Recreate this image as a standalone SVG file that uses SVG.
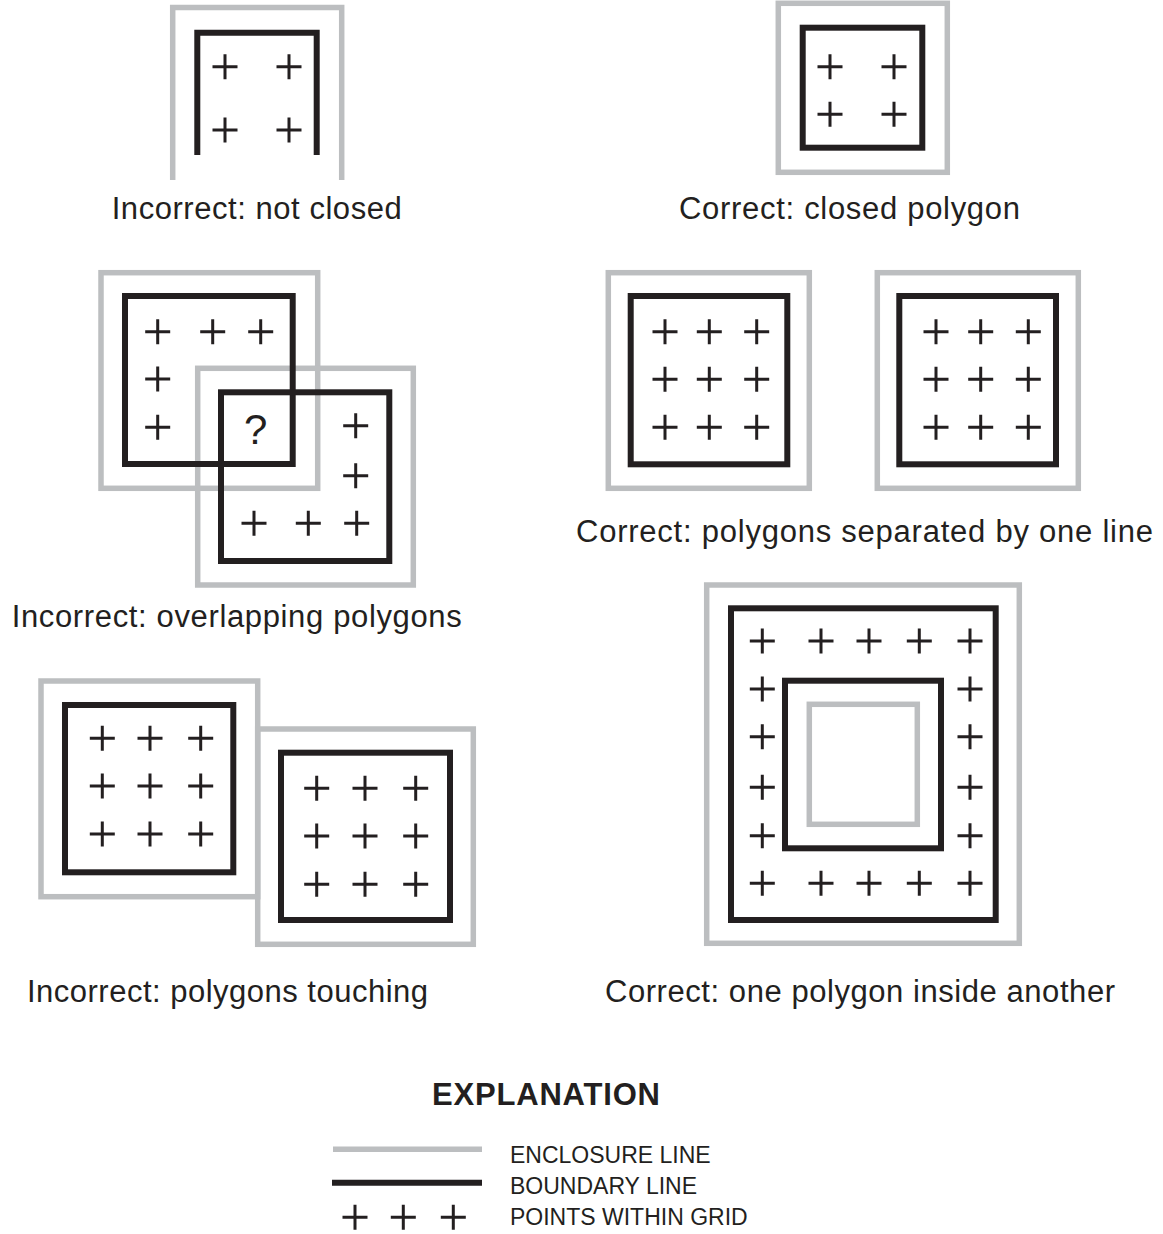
<svg xmlns="http://www.w3.org/2000/svg" xmlns:xlink="http://www.w3.org/1999/xlink" width="1163" height="1234" viewBox="0 0 1163 1234">
<style>
.enc{fill:none;stroke:#bcbec0;stroke-width:5.5}
.bnd{fill:none;stroke:#231f20;stroke-width:6}
.pt{fill:none;stroke:#231f20;stroke-width:3}
.cap{font-family:"Liberation Sans",Arial,sans-serif;font-size:31px;fill:#231f20}
.leg{font-family:"Liberation Sans",Arial,sans-serif;font-size:23px;fill:#231f20}
.ttl{font-family:"Liberation Sans",Arial,sans-serif;font-size:31px;font-weight:bold;fill:#231f20}
</style>
<defs>
<path id="plus" class="pt" d="M-12.5 0H12.5M0 -12.5V12.5"/>
</defs>
<rect width="1163" height="1234" fill="#fff"/>

<g id="not-closed">
<path class="enc" d="M172.7 180V7.5H341.7V180"/>
<path class="bnd" d="M197.3 155V32.7H316.7V155"/>
<use href="#plus" x="225" y="66.7"/><use href="#plus" x="289" y="66.7"/>
<use href="#plus" x="225" y="130"/><use href="#plus" x="289" y="130"/>
<text class="cap" x="256.7" y="218.5" text-anchor="middle" textLength="290" lengthAdjust="spacing">Incorrect: not closed</text>
</g>

<g id="closed">
<rect class="enc" x="778.3" y="3.3" width="169" height="169"/>
<rect class="bnd" x="802.7" y="27.7" width="119.6" height="120"/>
<use href="#plus" x="830" y="66.7"/><use href="#plus" x="894" y="66.7"/>
<use href="#plus" x="830" y="114.3"/><use href="#plus" x="894" y="114.3"/>
<text class="cap" x="849.5" y="218.5" text-anchor="middle" textLength="341" lengthAdjust="spacing">Correct: closed polygon</text>
</g>

<g id="overlapping">
<rect class="enc" x="101" y="272.7" width="216.7" height="215.6"/>
<rect class="enc" x="197.7" y="368.3" width="215.6" height="216.7"/>
<rect class="bnd" x="125" y="296" width="167.7" height="168"/>
<rect class="bnd" x="221" y="392.3" width="168.3" height="168.7"/>
<use href="#plus" x="157.7" y="331.7"/><use href="#plus" x="212.7" y="331.7"/><use href="#plus" x="260.7" y="331.7"/>
<use href="#plus" x="157.7" y="379"/><use href="#plus" x="157.7" y="427.3"/>
<use href="#plus" x="355.7" y="425.7"/><use href="#plus" x="355.7" y="475.7"/>
<use href="#plus" x="254" y="523.3"/><use href="#plus" x="308.3" y="523.3"/><use href="#plus" x="356.7" y="523.3"/>
<text class="cap" x="255.7" y="444" text-anchor="middle" style="font-size:42px">?</text>
<text class="cap" x="236.7" y="627" text-anchor="middle" textLength="450" lengthAdjust="spacing">Incorrect: overlapping polygons</text>
</g>

<g id="separated">
<rect class="enc" x="608.3" y="272.7" width="201" height="215.6"/>
<rect class="bnd" x="630.7" y="296" width="156.6" height="168.3"/>
<rect class="enc" x="877.3" y="272.7" width="201" height="215.6"/>
<rect class="bnd" x="899.3" y="296" width="156.7" height="168.3"/>
<use href="#plus" x="665" y="331.7"/><use href="#plus" x="709.3" y="331.7"/><use href="#plus" x="756.7" y="331.7"/>
<use href="#plus" x="665" y="379.3"/><use href="#plus" x="709.3" y="379.3"/><use href="#plus" x="756.7" y="379.3"/>
<use href="#plus" x="665" y="427.3"/><use href="#plus" x="709.3" y="427.3"/><use href="#plus" x="756.7" y="427.3"/>
<use href="#plus" x="936" y="331.7"/><use href="#plus" x="980.7" y="331.7"/><use href="#plus" x="1028.3" y="331.7"/>
<use href="#plus" x="936" y="379.3"/><use href="#plus" x="980.7" y="379.3"/><use href="#plus" x="1028.3" y="379.3"/>
<use href="#plus" x="936" y="427.3"/><use href="#plus" x="980.7" y="427.3"/><use href="#plus" x="1028.3" y="427.3"/>
<text class="cap" x="864.5" y="541.5" text-anchor="middle" textLength="577" lengthAdjust="spacing">Correct: polygons separated by one line</text>
</g>

<g id="touching">
<rect class="enc" x="41" y="681" width="216.7" height="215.7"/>
<rect class="enc" x="257.7" y="729" width="215.6" height="215.3"/>
<rect class="bnd" x="65" y="705" width="168.3" height="167.3"/>
<rect class="bnd" x="281" y="752.7" width="169" height="167.3"/>
<use href="#plus" x="102.3" y="738.3"/><use href="#plus" x="150" y="738.3"/><use href="#plus" x="200.7" y="738.3"/>
<use href="#plus" x="102.3" y="786"/><use href="#plus" x="150" y="786"/><use href="#plus" x="200.7" y="786"/>
<use href="#plus" x="102.3" y="834"/><use href="#plus" x="150" y="834"/><use href="#plus" x="200.7" y="834"/>
<use href="#plus" x="316.7" y="788.3"/><use href="#plus" x="365" y="788.3"/><use href="#plus" x="415.7" y="788.3"/>
<use href="#plus" x="316.7" y="836"/><use href="#plus" x="365" y="836"/><use href="#plus" x="415.7" y="836"/>
<use href="#plus" x="316.7" y="884.3"/><use href="#plus" x="365" y="884.3"/><use href="#plus" x="415.7" y="884.3"/>
<text class="cap" x="227.5" y="1001.5" text-anchor="middle" textLength="401" lengthAdjust="spacing">Incorrect: polygons touching</text>
</g>

<g id="inside">
<rect class="enc" x="706.7" y="585" width="312.6" height="358.3"/>
<rect class="bnd" x="731" y="608.3" width="264.7" height="311.7"/>
<rect class="bnd" x="785" y="680.7" width="156" height="167.6"/>
<rect class="enc" x="809.3" y="704.3" width="108" height="120"/>
<use href="#plus" x="762.3" y="641"/><use href="#plus" x="821" y="641"/><use href="#plus" x="869" y="641"/><use href="#plus" x="919.3" y="641"/><use href="#plus" x="970" y="641"/>
<use href="#plus" x="762.3" y="689"/><use href="#plus" x="970" y="689"/>
<use href="#plus" x="762.3" y="736.7"/><use href="#plus" x="970" y="736.7"/>
<use href="#plus" x="762.3" y="787.3"/><use href="#plus" x="970" y="787.3"/>
<use href="#plus" x="762.3" y="835.7"/><use href="#plus" x="970" y="835.7"/>
<use href="#plus" x="762.3" y="883.3"/><use href="#plus" x="821" y="883.3"/><use href="#plus" x="869" y="883.3"/><use href="#plus" x="919.3" y="883.3"/><use href="#plus" x="970" y="883.3"/>
<text class="cap" x="860" y="1001.5" text-anchor="middle" textLength="510" lengthAdjust="spacing">Correct: one polygon inside another</text>
</g>

<g id="explanation">
<text class="ttl" x="546" y="1105" text-anchor="middle" textLength="228" lengthAdjust="spacing">EXPLANATION</text>
<line class="enc" x1="333" y1="1149.3" x2="482" y2="1149.3"/>
<line class="bnd" x1="332" y1="1182.7" x2="482" y2="1182.7"/>
<use href="#plus" x="355" y="1217.3"/><use href="#plus" x="403.3" y="1217.3"/><use href="#plus" x="453.3" y="1217.3"/>
<text class="leg" x="510" y="1162.5">ENCLOSURE LINE</text>
<text class="leg" x="510" y="1194">BOUNDARY LINE</text>
<text class="leg" x="510" y="1224.5">POINTS WITHIN GRID</text>
</g>
<g id="connectors"/>
</svg>
